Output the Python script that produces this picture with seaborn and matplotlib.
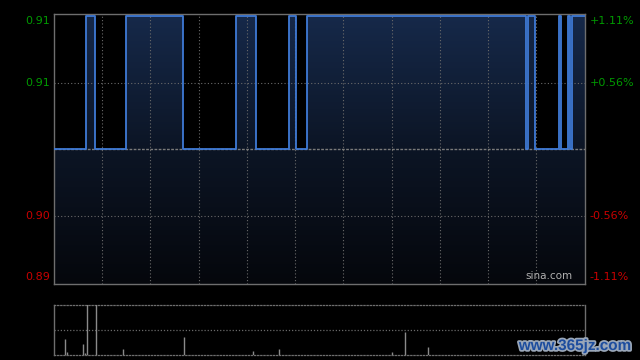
import numpy as np
import pandas as pd
import matplotlib
matplotlib.use("Agg")
import matplotlib.pyplot as plt
import matplotlib.patheffects as pe
from matplotlib.colors import LinearSegmentedColormap
import seaborn as sns

# ---- data ----
prev_close = 0.905
# price as run lengths: (price, number of minutes)
price_runs = [
    (0.905, 15), (0.915, 4), (0.905, 14), (0.915, 26), (0.905, 24),
    (0.915, 9), (0.905, 15), (0.915, 3), (0.905, 5), (0.915, 99),
    (0.905, 1), (0.915, 3), (0.905, 11), (0.915, 1), (0.905, 3),
    (0.915, 1), (0.905, 1), (0.915, 6),
]
vol_minutes = [5, 6, 13, 14, 15, 19, 31, 59, 90, 102, 153, 159, 169]
vol_values = [31, 5, 21, 4, 140, 120, 11, 35, 8, 12, 5, 45, 15]

left_ticks = [0.895, 0.90, 0.91, 0.915]
left_labels = ["0.89", "0.90", "0.91", "0.91"]
right_labels = ["-1.11%", "-0.56%", "+0.56%", "+1.11%"]

prices = []
for p, n in price_runs:
    prices.extend([p] * n)
minutes = np.arange(len(prices))
df = pd.DataFrame({"minute": minutes, "price": prices})

sns.set_theme(style="dark")
plt.rcParams["font.family"] = ["DejaVu Sans"]

BG = "#000000"
GRID = "#6a6a6a"
FRAME = "#6e6e6e"
GREEN = "#009a00"
RED = "#c80000"

fig = plt.figure(figsize=(6.4, 3.6), dpi=100, facecolor=BG)
ax = fig.add_axes([54 / 640, 1 - 284 / 360, 530.5 / 640, (284 - 14.3) / 360])
axv = fig.add_axes([54 / 640, 1 - 354.7 / 360, 530.5 / 640, 50 / 360])
for a in (ax, axv):
    a.set_facecolor(BG)

ymin, ymax = 0.895, 0.915
pad = 0.00013
ylo, yhi = ymin - pad, ymax + pad
ax.set_xlim(0, len(prices) - 1)
ax.set_ylim(ylo, yhi)

# gradient fill under line
xs = np.repeat(np.arange(len(prices) + 1) - 0.5, 2)[1:-1]
ys = np.repeat(prices, 2)
poly = ax.fill_between(xs, ys, ylo, color="none", lw=0)
cmap = LinearSegmentedColormap.from_list("g", ["#05070c", "#0c1525", "#16294a"])
grad = np.linspace(0, 1, 256).reshape(-1, 1)
im = ax.imshow(grad, cmap=cmap, aspect="auto", origin="lower",
               extent=[-0.5, len(prices) - 0.5, ylo, yhi], zorder=1)
im.set_clip_path(poly.get_paths()[0], transform=ax.transData)
ax.set_xlim(0, len(prices) - 1)
ax.set_ylim(ylo, yhi)

# grid
vgrid = np.linspace(0, len(prices) - 1, 12)[1:-1]
for xg in vgrid:
    ax.axvline(xg, color=GRID, lw=0.8, ls=(0, (1, 2)), zorder=2)
for yg in (0.90, 0.91):
    ax.axhline(yg, color=GRID, lw=0.8, ls=(0, (1, 2)), zorder=2)
ax.axhline(prev_close, color="#7a7a7a", lw=1.0, ls=(0, (2, 1)), zorder=2)

sns.lineplot(data=df, x="minute", y="price", ax=ax, color="#3f7ad6", lw=1.3,
             drawstyle="steps-mid", zorder=4)

ax.set_xticks([])
ax.set_yticks(left_ticks)
ax.set_yticklabels([])
ax.set_xlabel("")
ax.set_ylabel("")
ax.tick_params(length=0)
for s in ax.spines.values():
    s.set_visible(True)
    s.set_color(FRAME)
    s.set_linewidth(1.0)

# left & right labels
for t, lab, rlab in zip(left_ticks, left_labels, right_labels):
    col = GREEN if t > prev_close else RED
    va = "center"
    if t == ymax:
        va = "top"
    elif t == ymin:
        va = "bottom"
    ax.text(-0.008, t, lab, transform=ax.get_yaxis_transform(), ha="right",
            va=va, color=col, fontsize=8)
    ax.text(1.01, t, rlab, transform=ax.get_yaxis_transform(), ha="left",
            va=va, color=col, fontsize=8)

ax.text(0.978, 0.012, "sina.com", transform=ax.transAxes, ha="right",
        va="bottom", color="#b0b0b0", fontsize=7.5)

# volume panel
axv.set_xlim(0, len(prices) - 1)
axv.set_ylim(0, 100)
axv.vlines(vol_minutes, 0, vol_values, color="#8a8a8a", lw=1.0, zorder=3)
axv.axhline(50, color=GRID, lw=0.9, ls=(0, (1, 1.5)), zorder=2)
axv.set_xticks([])
axv.set_yticks([])
for side, s in axv.spines.items():
    s.set_color(FRAME)
    s.set_linewidth(1.0)
    if side in ("top", "bottom"):
        s.set_linestyle((0, (1, 1.5)))
        s.set_linewidth(0.9)

fig.text(575 / 640, 1 - 346 / 360, "www.365jz.com", ha="center", va="center",
         color="#1d4d9e", fontsize=11, fontweight="bold",
         family=["Liberation Sans", "DejaVu Sans"],
         path_effects=[pe.withStroke(linewidth=2.5, foreground="#9aa7b8")])

fig.savefig("out.png", dpi=100, facecolor=BG)
